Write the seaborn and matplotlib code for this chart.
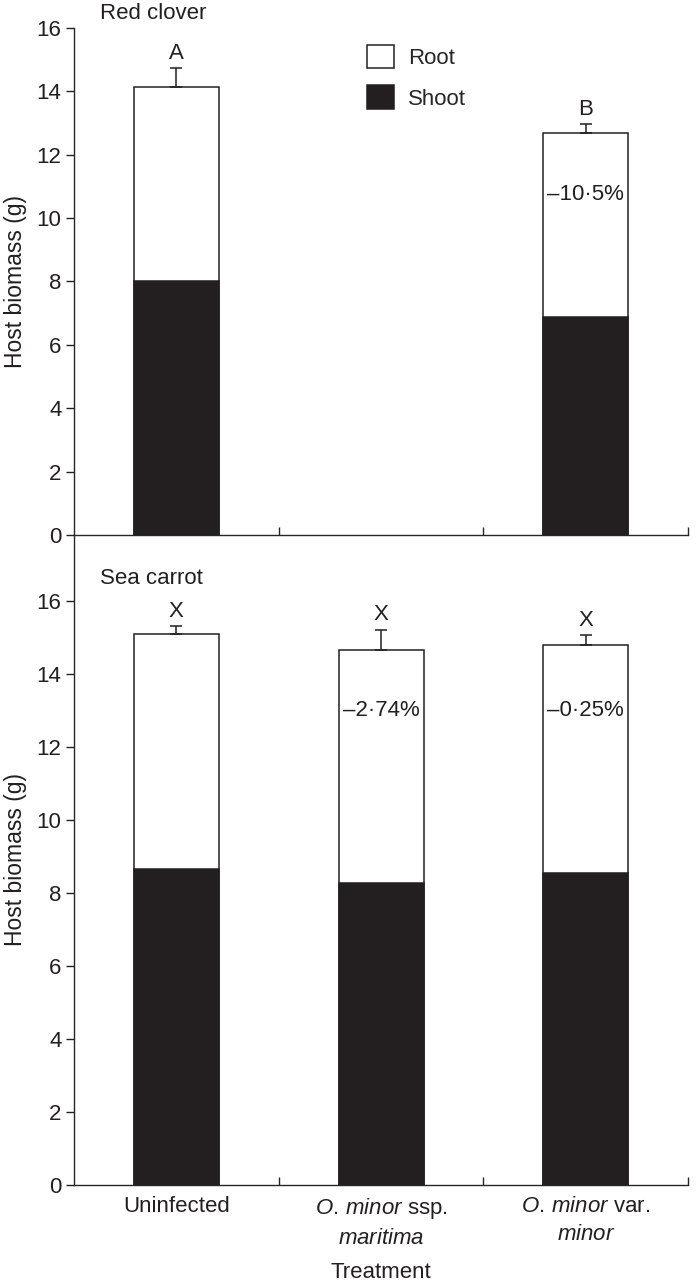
import matplotlib
matplotlib.use("Agg")
import matplotlib.pyplot as plt
from matplotlib.patches import Patch
import seaborn as sns
import pandas as pd

treatments = ["Uninfected", "O. minor ssp. maritima", "O. minor var. minor"]
tick_labels = [
    "Uninfected",
    r"$\mathit{O.\,minor}$ ssp." + "\n" + r"$\mathit{maritima}$",
    r"$\mathit{O.\,minor}$ var." + "\n" + r"$\mathit{minor}$",
]

# Red clover (no maritima treatment)
clover_treat = ["Uninfected", "O. minor var. minor"]
clover_total = [14.15, 12.7]
clover_shoot = [8.0, 6.87]
clover_err = [0.58, 0.27]
clover_letters = ["A", "B"]
clover_pct = ["", "\u201310\u00b75%"]

# Sea carrot
carrot_total = [15.1, 14.65, 14.8]
carrot_shoot = [8.65, 8.28, 8.53]
carrot_err = [0.2, 0.56, 0.25]
carrot_letters = ["X", "X", "X"]
carrot_pct = ["", "\u20132\u00b774%", "\u20130\u00b725%"]

sns.set_style("ticks")
plt.rcParams["font.family"] = ["Liberation Sans", "DejaVu Sans"]
plt.rcParams["mathtext.fontset"] = "custom"
plt.rcParams["mathtext.rm"] = "Liberation Sans"
plt.rcParams["mathtext.it"] = "Liberation Sans:italic"
plt.rcParams["axes.linewidth"] = 1.0

fs = 16
black = "#231f20"
bar_w = 0.415

fig = plt.figure(figsize=(6.98, 12.85), dpi=100)
ax_top = fig.add_axes([0.106, 0.5837, 0.880, 0.3945])
ax_bot = fig.add_axes([0.106, 0.0778, 0.880, 0.5059])


def draw_panel(ax, treat, total, shoot, err, letters, pct, pct_y, letter_gap):
    df = pd.DataFrame({"treatment": treat, "total": total, "shoot": shoot})
    sns.barplot(data=df, x="treatment", y="total", order=treatments,
                color="white", edgecolor=black, linewidth=1.1,
                width=bar_w, saturation=1, errorbar=None, ax=ax)
    sns.barplot(data=df, x="treatment", y="shoot", order=treatments,
                color=black, edgecolor=black, linewidth=1.1,
                width=bar_w, saturation=1, errorbar=None, ax=ax)
    for t, tot, e, let, p in zip(treat, total, err, letters, pct):
        i = treatments.index(t)
        ax.errorbar(i, tot, yerr=[[0], [e]], fmt="none", ecolor=black,
                    elinewidth=1.1, capsize=4, capthick=1.1)
        ax.text(i, tot + e + letter_gap, let, ha="center", va="bottom",
                fontsize=fs, color=black)
        if p:
            ax.text(i, pct_y, p, ha="center", va="center", fontsize=fs,
                    color=black)


draw_panel(ax_top, clover_treat, clover_total, clover_shoot, clover_err,
           clover_letters, clover_pct, 10.75, 0.12)
draw_panel(ax_bot, treatments, carrot_total, carrot_shoot, carrot_err,
           carrot_letters, carrot_pct, 13.0, 0.12)

for ax in (ax_top, ax_bot):
    ax.set_xlim(-0.5, 2.5)
    ax.set_yticks(range(0, 17, 2))
    ax.tick_params(axis="y", direction="out", length=6, width=1.0,
                   labelsize=fs, colors=black, pad=3)
    ax.set_xticks([0.5, 1.5, 2.5])
    ax.set_xticks([0, 1, 2], minor=True)
    ax.tick_params(axis="x", which="major", direction="in", length=6,
                   width=1.0, labelbottom=False)
    ax.tick_params(axis="x", which="minor", length=0, labelsize=fs,
                   colors=black, pad=8)
    ax.spines["top"].set_visible(False)
    ax.spines["right"].set_visible(False)
    ax.set_ylabel("Host biomass (g)", fontsize=fs + 0.5, color=black,
                  labelpad=7)
    ax.set_xlabel("")
    ax.patch.set_visible(False)

ax_top.set_ylim(0, 16)
ax_top.tick_params(axis="x", which="minor", labelbottom=False)
ax_bot.set_ylim(0, 17.8)
ax_bot.set_xticklabels(tick_labels, minor=True, linespacing=1.4)
ax_bot.set_xlabel("Treatment", fontsize=fs, color=black, labelpad=10)

ax_top.text(0.042, 1.008, "Red clover", transform=ax_top.transAxes,
            fontsize=fs, color=black, va="bottom")
ax_bot.text(0.042, 16.6, "Sea carrot", transform=ax_bot.get_yaxis_transform(),
            fontsize=fs, color=black, va="center")

handles = [Patch(facecolor="white", edgecolor=black, linewidth=1.1),
           Patch(facecolor=black, edgecolor=black, linewidth=1.1)]
ax_top.legend(handles, ["Root", "Shoot"], loc="upper left",
              bbox_to_anchor=(0.462, 0.985), frameon=False, fontsize=fs,
              handlelength=1.25, handleheight=1.25, handletextpad=0.6,
              labelspacing=0.75, borderaxespad=0)

fig.savefig("out.png", dpi=100)
